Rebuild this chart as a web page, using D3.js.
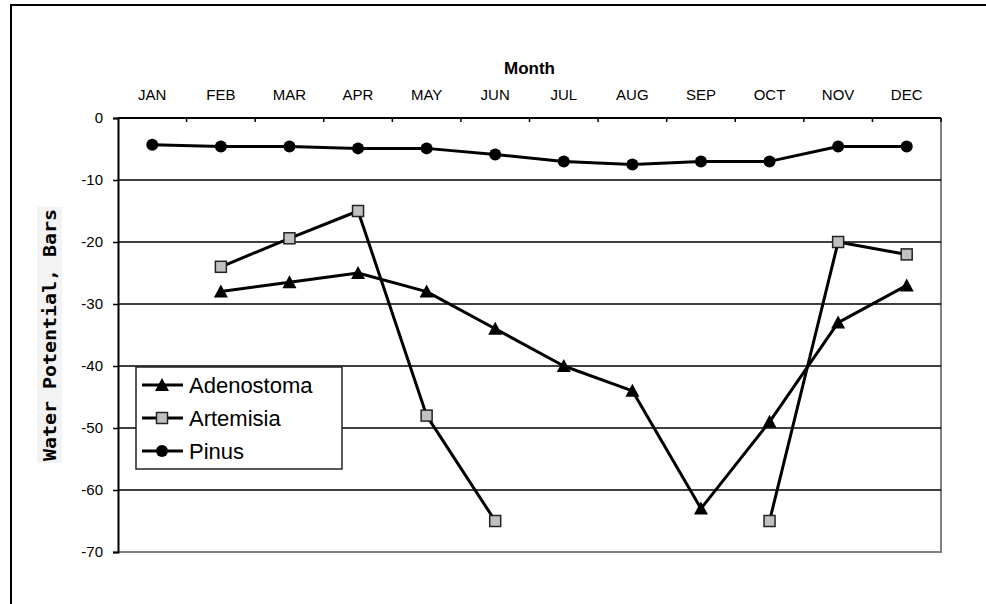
<!DOCTYPE html>
<html>
<head>
<meta charset="utf-8">
<style>
  body { margin: 0; background: #fff; }
  text { font-family: "Liberation Sans", Arial, sans-serif; fill: #000; }
</style>
</head>
<body>
<svg id="chart" width="986" height="604"></svg>
<script src="https://d3js.org/d3.v7.min.js"></script>
<script>
// chart data
var months = ["JAN", "FEB", "MAR", "APR", "MAY", "JUN", "JUL", "AUG", "SEP", "OCT", "NOV", "DEC"];
var yTicks = [0, -10, -20, -30, -40, -50, -60, -70];
var adenostoma = [null, -28, -26.5, -25, -28, -34, -40, -44, -63, -49, -33, -27];
var artemisia = [null, -24, -19.4, -15, -48, -65, null, null, null, -65, -20, -22];
var pinus = [-4.3, -4.6, -4.6, -4.9, -4.9, -5.9, -7, -7.5, -7, -7, -4.6, -4.6];

var series = [
    {name: "Adenostoma", values: adenostoma, marker: "triangle"},
    {name: "Artemisia", values: artemisia, marker: "square"},
    {name: "Pinus", values: pinus, marker: "circle"}
];

var svg = d3.select("#chart");
var plot = {left: 118, top: 118, right: 941, bottom: 552};

// outer frame (runs off the right and bottom)
svg.append("rect")
    .attr("x", 11).attr("y", 5)
    .attr("width", 1100).attr("height", 800)
    .attr("fill", "none").attr("stroke", "#000").attr("stroke-width", 2);

var x = d3.scaleBand().domain(months).range([plot.left, plot.right]);
var y = d3.scaleLinear().domain([-70, 0]).range([plot.bottom, plot.top]);

// plot frame: gray right/bottom
svg.append("path")
    .attr("d", "M" + plot.right + "," + plot.top + "V" + plot.bottom + "H" + plot.left)
    .attr("fill", "none").attr("stroke", "#808080").attr("stroke-width", 2);

// grid lines
svg.append("g").selectAll("line")
    .data(yTicks.filter(function (d) { return d < 0 && d > -70; }))
    .enter().append("line")
    .attr("x1", plot.left).attr("x2", plot.right)
    .attr("y1", function (d) { return y(d); })
    .attr("y2", function (d) { return y(d); })
    .attr("stroke", "#000").attr("stroke-width", 1.5);

// y axis (plain hyphen for the minus)
var yAxis = svg.append("g")
    .attr("transform", "translate(" + plot.left + ",0)")
    .call(d3.axisLeft(y).tickValues(yTicks).tickSize(5).tickPadding(10)
        .tickFormat(function (d) { return String(d); }));
yAxis.select(".domain").attr("stroke-width", 2);
yAxis.selectAll(".tick line").attr("stroke-width", 1.5);
yAxis.selectAll("text").style("font-size", "15px").attr("font-family", null);

// x axis on top, ticks at the band edges pointing down
var xAxis = svg.append("g")
    .attr("transform", "translate(0," + plot.top + ")");
xAxis.append("line")
    .attr("x1", plot.left).attr("x2", plot.right)
    .attr("stroke", "#000").attr("stroke-width", 2);
xAxis.selectAll(".xt")
    .data(months.slice(1).concat(["end"]))
    .enter().append("line")
    .attr("class", "xt")
    .attr("x1", function (d, i) { return plot.left + (i + 1) * x.bandwidth(); })
    .attr("x2", function (d, i) { return plot.left + (i + 1) * x.bandwidth(); })
    .attr("y1", 0).attr("y2", 4)
    .attr("stroke", "#000").attr("stroke-width", 1.5);
xAxis.selectAll(".xl")
    .data(months)
    .enter().append("text")
    .attr("class", "xl")
    .attr("x", function (d) { return x(d) + x.bandwidth() / 2; })
    .attr("y", -18.5)
    .attr("text-anchor", "middle")
    .style("font-size", "15px")
    .text(function (d) { return d; });

svg.append("text")
    .attr("x", (plot.left + plot.right) / 2)
    .attr("y", 73.5)
    .attr("text-anchor", "middle")
    .style("font-size", "17px").style("font-weight", "bold")
    .text("Month");

// y title with light background
var cy = (plot.top + plot.bottom) / 2;
svg.append("rect")
    .attr("x", 37).attr("y", cy - 128)
    .attr("width", 25).attr("height", 256)
    .attr("fill", "#f3f3f3");
svg.append("text")
    .attr("transform", "translate(56," + cy + ") rotate(-90)")
    .attr("text-anchor", "middle")
    .attr("textLength", 252).attr("lengthAdjust", "spacingAndGlyphs")
    .style("font-family", "'DejaVu Sans Mono', monospace")
    .style("font-size", "17px").style("font-weight", "bold")
    .text("Water Potential, Bars");

// markers
function drawMarker(g, type, cx, cy) {
    if (type === "circle") {
        g.append("circle").attr("cx", cx).attr("cy", cy).attr("r", 6).attr("fill", "#000");
    } else if (type === "square") {
        g.append("rect").attr("x", cx - 5.5).attr("y", cy - 5.5)
            .attr("width", 11).attr("height", 11)
            .attr("fill", "#c0c0c0").attr("stroke", "#222").attr("stroke-width", 1.5);
    } else {
        g.append("path")
            .attr("d", "M" + cx + "," + (cy - 7) + "L" + (cx + 7) + "," + (cy + 6) + "L" + (cx - 7) + "," + (cy + 6) + "Z")
            .attr("fill", "#000");
    }
}

var line = d3.line()
    .defined(function (d) { return d.v !== null; })
    .x(function (d) { return x(d.m) + x.bandwidth() / 2; })
    .y(function (d) { return y(d.v); });

series.forEach(function (s) {
    var pts = s.values.map(function (v, i) { return {m: months[i], v: v}; });
    var g = svg.append("g");
    g.append("path")
        .attr("d", line(pts))
        .attr("fill", "none").attr("stroke", "#000").attr("stroke-width", 3)
        .attr("stroke-linejoin", "round");
    pts.filter(function (d) { return d.v !== null; }).forEach(function (d) {
        drawMarker(g, s.marker, x(d.m) + x.bandwidth() / 2, y(d.v));
    });
});

// legend
var legend = svg.append("g").attr("transform", "translate(136,367)");
legend.append("rect")
    .attr("width", 206).attr("height", 102)
    .attr("fill", "#fff").attr("stroke", "#222").attr("stroke-width", 1.5);
series.forEach(function (s, i) {
    var ly = 18 + i * 33;
    var g = legend.append("g");
    g.append("line").attr("x1", 6).attr("x2", 47).attr("y1", ly).attr("y2", ly)
        .attr("stroke", "#000").attr("stroke-width", 3);
    drawMarker(g, s.marker, 26, ly);
    g.append("text")
        .attr("x", 53).attr("y", ly + 7.5)
        .style("font-size", "22px")
        .text(s.name);
});
</script>
</body>
</html>
